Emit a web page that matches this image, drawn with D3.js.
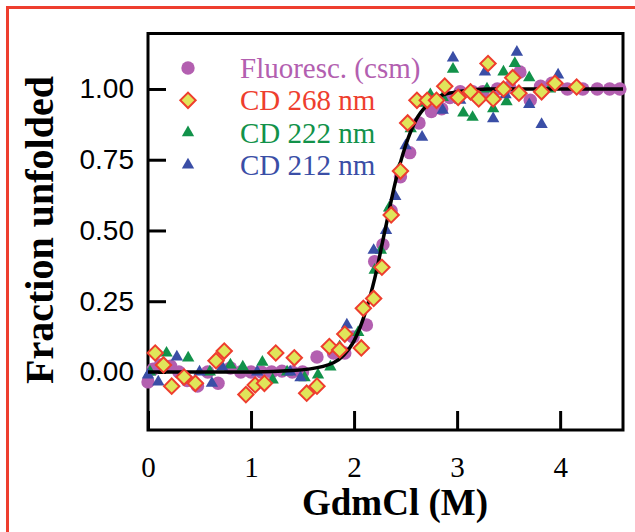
<!DOCTYPE html>
<html>
<head>
<meta charset="utf-8">
<script src="https://cdn.jsdelivr.net/npm/d3@7"></script>
<style>
  body { margin: 0; background: #fff; }
</style>
</head>
<body>
<script>
// data: [GdmCl (M), fraction unfolded]
var fluoresc = [
  [0.0,-0.035],[0.05,0.01],[0.12,0.025],[0.22,0.02],[0.3,0.0],[0.38,-0.03],[0.48,-0.05],[0.58,0.0],
  [0.68,-0.04],[0.8,0.014],[0.9,0.0],[1.0,0.0],[1.1,0.0],[1.2,0.0],[1.3,0.003],[1.4,0.0],[1.5,0.0],
  [1.64,0.053],[1.8,0.067],[1.91,0.067],[1.99,0.124],[2.12,0.166],[2.2,0.39],[2.28,0.45],[2.36,0.57],
  [2.45,0.69],[2.54,0.775],[2.63,0.88],[2.75,0.92],[2.85,0.93],[2.93,0.97],[3.03,0.99],[3.15,0.99],
  [3.25,0.99],[3.39,1.0],[3.51,1.007],[3.61,1.06],[3.71,0.96],[3.81,1.01],[3.92,1.02],[4.07,1.0],
  [4.22,1.0],[4.36,1.0],[4.48,1.0],[4.58,1.0]
];
var cd268 = [
  [0.07,0.067],[0.15,0.025],[0.23,-0.05],[0.35,-0.018],[0.46,-0.04],[0.66,0.04],[0.74,0.074],
  [0.95,-0.08],[1.04,-0.046],[1.13,-0.04],[1.24,0.067],[1.42,0.05],[1.54,-0.075],[1.64,-0.05],
  [1.76,0.09],[1.86,0.078],[1.91,0.134],[2.07,0.085],[2.09,0.225],[2.19,0.26],[2.27,0.37],
  [2.36,0.555],[2.45,0.71],[2.52,0.88],[2.61,0.96],[2.71,0.96],[2.80,0.96],[2.88,1.01],[3.01,0.97],
  [3.13,0.99],[3.21,0.965],[3.30,1.09],[3.35,0.965],[3.45,1.0],[3.54,1.04],[3.60,0.985],[3.82,0.99],
  [3.95,1.02],[4.16,1.007]
];
var cd222 = [
  [0.02,0.0],[0.18,0.067],[0.39,0.05],[0.6,0.0],[0.8,0.025],[0.92,0.018],[1.11,0.035],[1.21,-0.028],
  [1.35,0.0],[1.52,-0.02],[1.65,-0.01],[1.77,0.018],[1.86,0.09],[2.04,0.14],[2.2,0.36],[2.26,0.43],
  [2.34,0.58],[2.44,0.72],[2.55,0.86],[2.66,0.95],[2.74,0.98],[2.86,0.97],[2.96,1.07],[3.06,0.915],
  [3.15,0.90],[3.29,1.0],[3.35,0.93],[3.45,1.06],[3.48,0.955],[3.56,1.09],[3.70,1.04],[3.9,1.0]
];
var cd212 = [
  [0.0,-0.01],[0.1,-0.035],[0.28,0.053],[0.5,0.0],[0.62,-0.04],[0.72,0.018],[1.06,0.0],[1.38,0.0],
  [1.48,-0.02],[1.93,0.166],[2.19,0.43],[2.31,0.5],[2.4,0.62],[2.5,0.8],[2.66,0.83],[2.86,0.925],
  [2.96,1.11],[3.03,0.96],[3.27,1.06],[3.35,0.895],[3.47,0.98],[3.58,1.13],[3.70,0.945],[3.82,0.875],
  [3.98,1.05]
];
// fitted transition
var fitCurve = [
  [0,0],[0.5,0],[1.0,0],[1.4,0.005],[1.7,0.02],[1.9,0.06],[2.0,0.11],[2.1,0.2],[2.2,0.33],
  [2.3,0.5],[2.4,0.67],[2.5,0.8],[2.6,0.89],[2.7,0.94],[2.8,0.97],[3.0,0.99],[3.3,1.0],[4.61,1.0]
];
var xTicks = [0, 1, 2, 3, 4];
var yTicks = [0, 0.25, 0.5, 0.75, 1];
var legendLabels = ["Fluoresc. (csm)", "CD 268 nm", "CD 222 nm", "CD 212 nm"];

var purple = "#b35fb0", red = "#ee3e2e", green = "#12924a", blue = "#3a4ea6";
var serif = "'Liberation Serif', 'Times New Roman', serif";
var sans = "'Liberation Sans', Arial, sans-serif";

var width = 635, height = 532;

var svg = d3.select("body").append("svg")
    .attr("width", width)
    .attr("height", height);

// red frame round the figure panel
svg.append("rect")
    .attr("x", 7.5).attr("y", 7.5)
    .attr("width", 700).attr("height", 600)
    .attr("fill", "none")
    .attr("stroke", red)
    .attr("stroke-width", 3);

var x = d3.scaleLinear().domain([0, 4.61]).range([148, 623]);
var y = d3.scaleLinear().domain([-0.205, 1.196]).range([430, 33.5]);

// plot box
svg.append("rect")
    .attr("x", x(0)).attr("y", y(1.196))
    .attr("width", x(4.61) - x(0))
    .attr("height", y(-0.205) - y(1.196))
    .attr("fill", "none")
    .attr("stroke", "#000")
    .attr("stroke-width", 3);

// axes, ticks inside
var xAxis = svg.append("g")
    .attr("transform", "translate(0," + y(-0.205) + ")")
    .call(d3.axisBottom(x).tickValues(xTicks).tickSizeInner(-19).tickSizeOuter(0).tickPadding(26)
      .tickFormat(d3.format("d")));
xAxis.select(".domain").remove();
xAxis.selectAll(".tick line").attr("stroke-width", 3);
xAxis.selectAll(".tick text")
    .style("font-family", serif)
    .style("font-size", "29px")
    .attr("fill", "#000");

var yAxis = svg.append("g")
    .attr("transform", "translate(" + x(0) + ",0)")
    .call(d3.axisLeft(y).tickValues(yTicks).tickSizeInner(-18).tickSizeOuter(0).tickPadding(14)
      .tickFormat(d3.format(".2f")));
yAxis.select(".domain").remove();
yAxis.selectAll(".tick line").attr("stroke-width", 3);
yAxis.selectAll(".tick text")
    .style("font-family", sans)
    .style("font-size", "28px")
    .attr("fill", "#000");

// Labels
svg.append("text")
    .attr("text-anchor", "middle")
    .style("font-family", serif)
    .style("font-weight", "bold")
    .style("font-size", "40px")
    .attr("transform", "translate(53,230)rotate(-90)")
    .text("Fraction unfolded");

svg.append("text")
    .attr("text-anchor", "middle")
    .style("font-family", serif)
    .style("font-weight", "bold")
    .style("font-size", "37px")
    .attr("x", 395).attr("y", 515)
    .text("GdmCl (M)");

// markers
var plot = svg.append("g");
var tri = d3.symbol().type(d3.symbolTriangle).size(66);
var sq = d3.symbol().type(d3.symbolSquare).size(118);

plot.selectAll(".fl")
    .data(fluoresc)
    .enter().append("circle")
    .attr("cx", function(d) { return x(d[0]); })
    .attr("cy", function(d) { return y(d[1]); })
    .attr("r", 6.7)
    .attr("fill", purple);

plot.selectAll(".g222")
    .data(cd222)
    .enter().append("path")
    .attr("d", tri)
    .attr("transform", function(d) { return "translate(" + x(d[0]) + "," + y(d[1]) + ")"; })
    .attr("fill", green);

plot.selectAll(".b212")
    .data(cd212)
    .enter().append("path")
    .attr("d", tri)
    .attr("transform", function(d) { return "translate(" + x(d[0]) + "," + y(d[1]) + ")"; })
    .attr("fill", blue);

var line = d3.line()
    .x(function(d) { return x(d[0]); })
    .y(function(d) { return y(d[1]); })
    .curve(d3.curveMonotoneX);

plot.append("path")
    .datum(fitCurve)
    .attr("d", line)
    .attr("fill", "none")
    .attr("stroke", "#000")
    .attr("stroke-width", 3.5);

plot.selectAll(".r268")
    .data(cd268)
    .enter().append("path")
    .attr("d", sq)
    .attr("transform", function(d) { return "translate(" + x(d[0]) + "," + y(d[1]) + ")rotate(45)"; })
    .attr("fill", "#e0e55a")
    .attr("stroke", red)
    .attr("stroke-width", 2);

// legend
var legendColors = [purple, red, green, blue];
var legend = svg.append("g");
legendLabels.forEach(function(label, i) {
  var ly = 68 + i * 32.3;
  if (i === 0) {
    legend.append("circle").attr("cx", 188).attr("cy", ly).attr("r", 6.7).attr("fill", purple);
  } else if (i === 1) {
    legend.append("path").attr("d", sq)
        .attr("transform", "translate(188," + ly + ")rotate(45)")
        .attr("fill", "#e0e55a").attr("stroke", red).attr("stroke-width", 2);
  } else {
    legend.append("path").attr("d", tri)
        .attr("transform", "translate(188," + ly + ")")
        .attr("fill", legendColors[i]);
  }
  legend.append("text")
      .attr("x", 240).attr("y", ly + 10)
      .style("font-family", serif)
      .style("font-size", "29px")
      .attr("fill", legendColors[i])
      .text(label);
});
</script>
</body>
</html>
